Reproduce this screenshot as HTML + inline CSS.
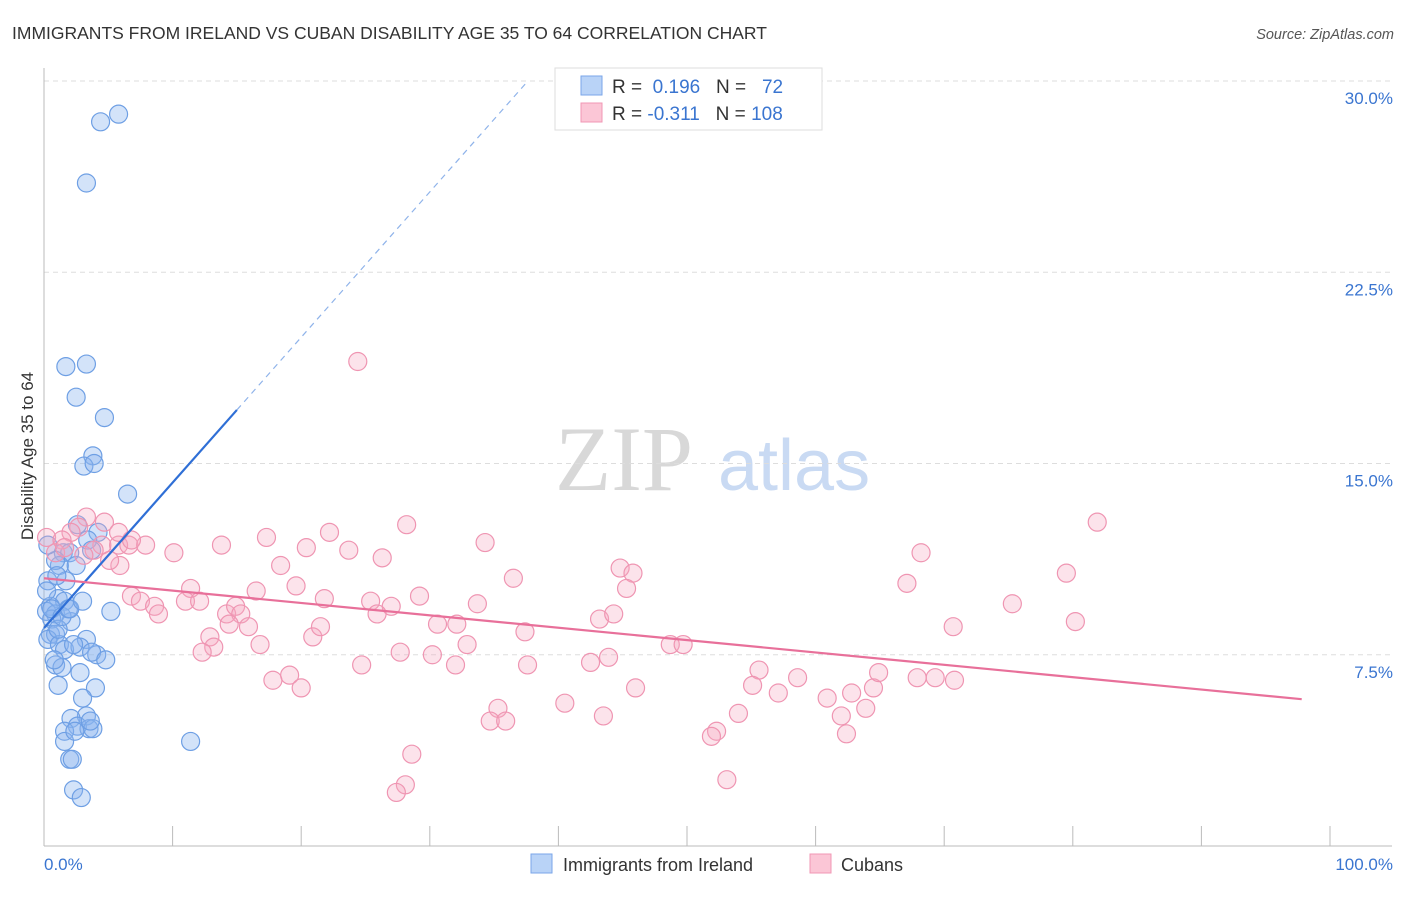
<!DOCTYPE html>
<html><head><meta charset="utf-8"><style>
body{margin:0;background:#fff;font-family:"Liberation Sans",sans-serif}
svg text{font-family:"Liberation Sans",sans-serif}
</style></head><body>
<svg id="chart" width="1406" height="892" xmlns="http://www.w3.org/2000/svg">
<text x="12" y="39" font-size="17.5" fill="#333">IMMIGRANTS FROM IRELAND VS CUBAN DISABILITY AGE 35 TO 64 CORRELATION CHART</text>
<text x="1394" y="39" font-size="14.5" fill="#555" font-style="italic" text-anchor="end">Source: ZipAtlas.com</text>
<g>
<text x="555" y="490" font-size="92" fill="#d8d8d8" font-family="Liberation Serif" style="font-family:'Liberation Serif',serif">ZIP</text>
<text x="718" y="490" font-size="72" fill="#c9daf3">atlas</text>
</g>
<g id="grid"></g>
<g id="axes"></g>
<g id="marks"></g>
<g>
<rect x="555" y="68" width="267" height="62" fill="#fff" stroke="#ddd"/>
<rect x="581" y="76" width="21" height="19" fill="#b9d3f7" stroke="#7aa6e8"/>
<rect x="581" y="103" width="21" height="19" fill="#fbc6d6" stroke="#f097b4"/>
<text x="612" y="93" font-size="19" fill="#333">R = <tspan fill="#3a75d0">&#160;0.196</tspan>&#160;&#160;&#160;N = <tspan fill="#3a75d0">&#160;&#160;72</tspan></text>
<text x="612" y="120" font-size="19" fill="#333">R = <tspan fill="#3a75d0">-0.311</tspan>&#160;&#160;&#160;N = <tspan fill="#3a75d0">108</tspan></text>
</g>
<text transform="translate(33,456) rotate(-90)" font-size="17" fill="#333" text-anchor="middle">Disability Age 35 to 64</text>
<g>
<rect x="531" y="854" width="21" height="19" fill="#b9d3f7" stroke="#7aa6e8"/>
<text x="563" y="871" font-size="18" fill="#333">Immigrants from Ireland</text>
<rect x="810" y="854" width="21" height="19" fill="#fbc6d6" stroke="#f097b4"/>
<text x="841" y="871" font-size="18" fill="#333">Cubans</text>
</g>
</svg>
<script>
const yTicks=[7.5,15,22.5,30];
const yTickLabels=["7.5%","15.0%","22.5%","30.0%"];
const xTicks=[0,10,20,30,40,50,60,70,80,90,100];
const xTickLabels=["0.0%","100.0%"];
const irelandX=[4.4,5.8,3.3,1.7,3.3,2.5,4.7,3.8,3.1,3.9,6.5,2.6,4.2,3.4,1.5,3.7,2.0,1.2,2.5,0.3,1.1,1.6,0.5,0.2,0.9,0.6,2.1,5.2,0.5,0.9,0.3,1.2,3.3,1.6,2.8,4.1,3.7,2.3,4.8,0.9,1.4,2.8,1.1,4.0,3.0,3.3,2.1,2.6,1.6,3.5,3.8,1.6,11.4,2.0,2.2,2.3,2.9,0.9,0.3,0.2,0.6,1.1,1.7,1.0,1.4,1.9,0.8,3.6,2.4,2.0,3.0];
const irelandY=[28.4,28.7,26.0,18.8,18.9,17.6,16.8,15.3,14.9,15.0,13.8,12.6,12.3,12.0,11.5,11.6,11.5,11.0,11.0,10.4,9.7,9.6,9.4,9.2,9.1,8.9,8.8,9.2,8.3,8.3,8.1,7.9,8.1,7.7,7.8,7.5,7.6,7.9,7.3,7.1,7.0,6.8,6.3,6.2,5.8,5.1,5.0,4.7,4.5,4.6,4.6,4.1,4.1,3.4,3.4,2.2,1.9,11.2,11.8,10.0,9.3,8.5,10.4,10.6,9.0,9.3,7.3,4.9,4.5,9.3,9.6];
const cubanX=[24.4,0.2,3.3,2.7,2.1,4.7,4.5,5.8,6.6,7.9,1.4,0.9,3.9,28.2,22.2,34.3,17.3,13.8,20.4,23.7,26.3,18.4,10.1,5.9,36.5,44.8,45.8,19.6,16.5,11.4,45.3,6.8,7.5,8.6,8.9,11.0,12.1,14.2,14.9,15.3,15.9,14.4,21.8,25.4,27.0,25.9,29.2,33.7,30.6,32.1,43.2,44.3,37.4,12.9,13.2,20.9,21.5,12.3,16.8,27.7,32.9,30.2,24.7,32.0,37.6,42.5,43.9,48.7,49.7,17.8,19.1,20.0,46.0,35.3,34.7,35.9,40.5,43.5,55.6,58.6,55.1,57.1,54.0,52.3,51.9,60.9,62.8,64.5,64.9,63.9,62.0,62.4,67.9,69.3,70.8,28.6,28.1,27.4,53.1,68.2,67.1,79.5,75.3,70.7,80.2,81.9,5.8,3.1,1.6,6.8,5.1];
const cubanY=[19.0,12.1,12.9,12.5,12.3,12.7,11.8,11.8,11.8,11.8,12.0,11.5,11.6,12.6,12.3,11.9,12.1,11.8,11.7,11.6,11.3,11.0,11.5,11.0,10.5,10.9,10.7,10.2,10.0,10.1,10.1,9.8,9.6,9.4,9.1,9.6,9.6,9.1,9.4,9.1,8.6,8.7,9.7,9.6,9.4,9.1,9.8,9.5,8.7,8.7,8.9,9.1,8.4,8.2,7.8,8.2,8.6,7.6,7.9,7.6,7.9,7.5,7.1,7.1,7.1,7.2,7.4,7.9,7.9,6.5,6.7,6.2,6.2,5.4,4.9,4.9,5.6,5.1,6.9,6.6,6.3,6.0,5.2,4.5,4.3,5.8,6.0,6.2,6.8,5.4,5.1,4.4,6.6,6.6,6.5,3.6,2.4,2.1,2.6,11.5,10.3,10.7,9.5,8.6,8.8,12.7,12.3,11.4,11.7,12.0,11.2];
const irelandFit=[8.55,0.57];
const cubanFit=[10.5,-0.0485];
const NS="http://www.w3.org/2000/svg";
const X=v=>44+v*12.86, Y=v=>846-v*25.5;
function mk(tag,attrs,parent){const e=document.createElementNS(NS,tag);for(const k in attrs)e.setAttribute(k,attrs[k]);parent.appendChild(e);return e;}
const grid=document.getElementById('grid'),axes=document.getElementById('axes'),marks=document.getElementById('marks');
yTicks.forEach((t,i)=>{
 const l=mk('line',{x1:44,x2:1392,y1:Y(t),y2:Y(t),stroke:'#ddd','stroke-dasharray':'5,4'},grid);
 
 
 const tx=mk('text',{x:1393,y:Y(t)+23,'font-size':17,fill:'#3a75d0','text-anchor':'end'},grid);
 tx.textContent=yTickLabels[i];
 
 
});
const ax=mk('line',{x1:44,x2:1392,y1:846,y2:846,stroke:'#bbb'},axes);


const ay=mk('line',{x1:44,x2:44,y1:68,y2:846,stroke:'#bbb'},axes);


xTicks.forEach(t=>{const l=mk('line',{x1:X(t),x2:X(t),y1:826,y2:846,stroke:'#bbb'},axes);
 
 });
[[0,'start',44],[1,'end',1393]].forEach(([i,a,x])=>{const tx=mk('text',{x:x,y:870,'font-size':17,fill:'#3a75d0','text-anchor':a},axes);tx.textContent=xTickLabels[i];
 
 });
irelandX.forEach((x,i)=>{const c=mk('circle',{cx:X(x),cy:Y(irelandY[i]),r:9,fill:'rgba(140,182,240,0.38)',stroke:'#6e9fe4','stroke-width':1.2},marks);
 
 });
cubanX.forEach((x,i)=>{const c=mk('circle',{cx:X(x),cy:Y(cubanY[i]),r:9,fill:'rgba(246,168,194,0.32)',stroke:'#ef95b2','stroke-width':1.2},marks);
 
 });
const fi=x=>irelandFit[0]+irelandFit[1]*x, fc=x=>cubanFit[0]+cubanFit[1]*x;
const l1=mk('line',{x1:X(0),y1:Y(fi(0)),x2:X(15),y2:Y(fi(15)),stroke:'#2f6fd6','stroke-width':2.2},marks);


const xe=(30-irelandFit[0])/irelandFit[1];
const l2=mk('line',{x1:X(15),y1:Y(fi(15)),x2:X(xe),y2:Y(fi(xe)),stroke:'#8fb3ea','stroke-width':1.2,'stroke-dasharray':'6,5'},marks);


const l3=mk('line',{x1:X(0),y1:Y(fc(0)),x2:X(97.8),y2:Y(fc(97.8)),stroke:'#e8709a','stroke-width':2.2},marks);


</script>
</body></html>
